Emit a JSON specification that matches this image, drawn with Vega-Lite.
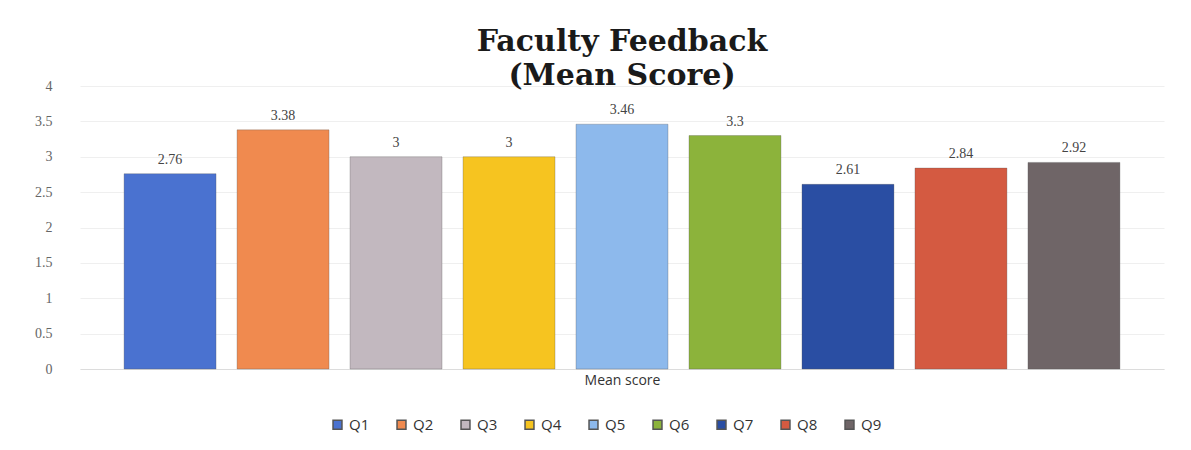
{
  "$schema": "https://vega.github.io/schema/vega-lite/v6.json",
  "autosize": "none",
  "width": 1084,
  "height": 283,
  "padding": {"left": 80, "top": 86, "right": 27, "bottom": 81},
  "background": "white",
  "config": {"view": {"stroke": null}},
  "title": {
    "text": ["Faculty Feedback", "(Mean Score)"],
    "font": "DejaVu Serif",
    "fontSize": 30,
    "fontWeight": "bold",
    "color": "#1a1a1a",
    "lineHeight": 34,
    "anchor": "middle",
    "offset": -12
  },
  "data": {
    "values": [
      {"q": "Q1", "score": 2.76},
      {"q": "Q2", "score": 3.38},
      {"q": "Q3", "score": 3},
      {"q": "Q4", "score": 3},
      {"q": "Q5", "score": 3.46},
      {"q": "Q6", "score": 3.3},
      {"q": "Q7", "score": 2.61},
      {"q": "Q8", "score": 2.84},
      {"q": "Q9", "score": 2.92}
    ]
  },
  "encoding": {
    "x": {
      "field": "q",
      "type": "nominal",
      "sort": null,
      "scale": {"paddingInner": 0.186, "paddingOuter": 0.39},
      "axis": {
        "title": "Mean score",
        "labels": false,
        "ticks": false,
        "domain": true,
        "domainColor": "#dcdcdc",
        "titleFont": "Open Sans",
        "titleFontSize": 14,
        "titleFontWeight": "normal",
        "titleColor": "#333",
        "titlePadding": 4
      }
    },
    "y": {
      "field": "score",
      "type": "quantitative",
      "scale": {"domain": [0, 4]},
      "axis": {
        "title": null,
        "values": [0, 0.5, 1, 1.5, 2, 2.5, 3, 3.5, 4],
        "format": "~g",
        "labelFont": "Liberation Serif",
        "labelFontSize": 14,
        "labelColor": "#666",
        "labelPadding": 28,
        "ticks": false,
        "domain": false,
        "gridColor": "#efefef"
      }
    }
  },
  "layer": [
    {
      "mark": {"type": "bar", "stroke": "#555", "strokeWidth": 0.6, "strokeOpacity": 0.5},
      "encoding": {
        "color": {
          "field": "q",
          "type": "nominal",
          "sort": null,
          "scale": {
            "domain": ["Q1", "Q2", "Q3", "Q4", "Q5", "Q6", "Q7", "Q8", "Q9"],
            "range": ["#4a72d0", "#f08a4f", "#c2b8bf", "#f6c420", "#8db9ec", "#8cb33b", "#2a4ea3", "#d45a41", "#6f6567"]
          },
          "legend": {
            "title": null,
            "orient": "none",
            "legendX": 250,
            "legendY": 331,
            "direction": "horizontal",
            "symbolType": "square",
            "symbolSize": 80,
            "labelFont": "Open Sans",
            "labelFontSize": 15,
            "labelColor": "#333",
            "columnPadding": 24
          }
        }
      }
    },
    {
      "mark": {"type": "text", "dy": -14, "font": "Liberation Serif", "fontSize": 14, "color": "#444"},
      "encoding": {
        "text": {"field": "score", "type": "quantitative"}
      }
    }
  ]
}
